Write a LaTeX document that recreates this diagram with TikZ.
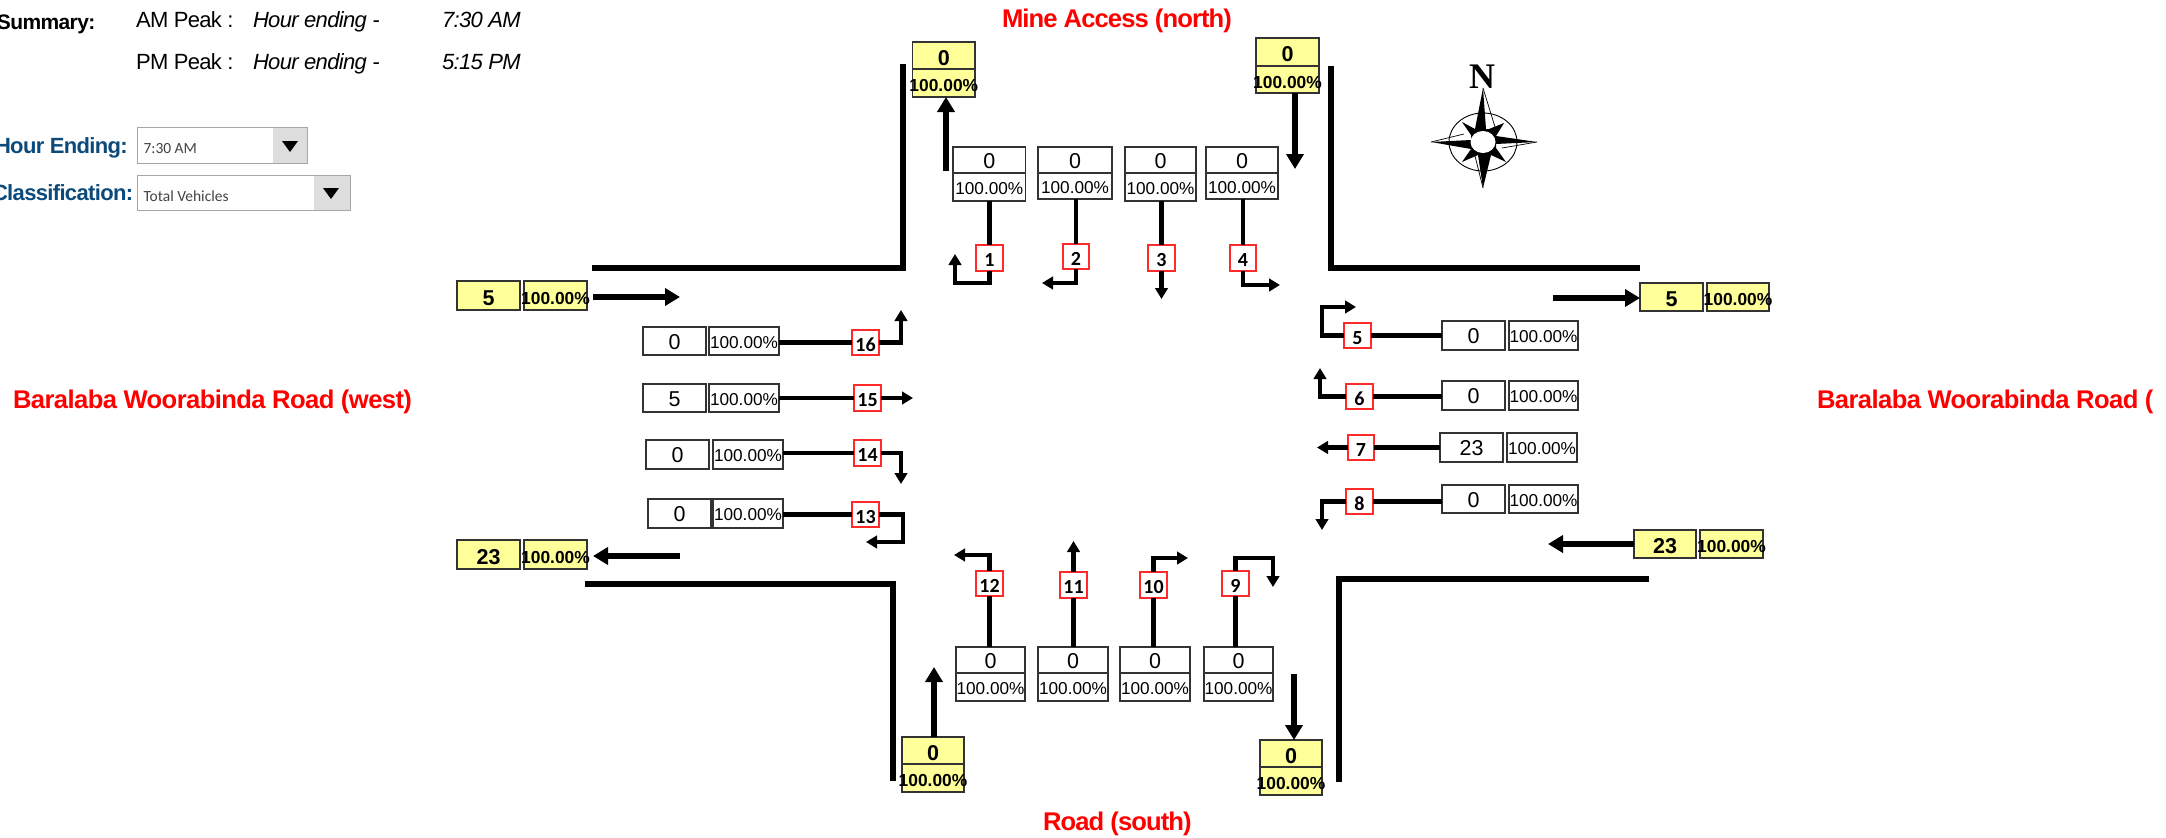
\documentclass[tikz,border=0pt]{standalone}
\usepackage{fontspec}
\usetikzlibrary{arrows.meta,calc}
\setmainfont{Liberation Sans}
\newfontfamily\arialfont{Liberation Sans}
\newfontfamily\roadfont[LetterSpace=-3.6]{Liberation Sans}
\newfontfamily\longroadfont[LetterSpace=-2.3]{Liberation Sans}
\newfontfamily\tightfont[LetterSpace=-3]{Liberation Sans}
\newfontfamily\calfont{Carlito}
\newfontfamily\serfont{Liberation Serif}
\definecolor{cellline}{HTML}{333333}
\definecolor{cellyellow}{HTML}{FFFF99}
\definecolor{lblred}{HTML}{FF2A2A}
\definecolor{hdrblue}{HTML}{0B4A7A}
\definecolor{btngrey}{HTML}{DDDDDD}
\definecolor{combotext}{HTML}{444444}
\newcommand\numtxt[1]{\raisebox{-8pt}[0pt][0pt]{\arialfont\fontsize{21.5}{24}\selectfont #1}}
\newcommand\pcttxt{\raisebox{-7.2pt}[0pt][0pt]{\arialfont\fontsize{17.2}{20}\selectfont 100.00\%}}
\newcommand\ynumtxt[1]{\raisebox{-9.8pt}[0pt][0pt]{\arialfont\fontsize{21.5}{24}\selectfont\bfseries #1}}
\newcommand\ypcttxt{\raisebox{-8.5pt}[0pt][0pt]{\arialfont\fontsize{17.4}{20}\selectfont\bfseries 100.00\%}}
% name x1 y1 x2 y2 style text
\newcommand\cellbox[7]{%
  \pgfmathsetmacro\cw{#4-#2}\pgfmathsetmacro\ch{#5-#3}%
  \node[#6,minimum width=\cw pt,minimum height=\ch pt] (#1) at ({(#2+#4)/2},{(#3+#5)/2}) {\makebox[0pt]{#7}};}
\tikzset{
  whitecell/.style={draw=cellline,fill=white,line width=1.3pt,inner sep=0pt,outer sep=0pt},
  yellowcell/.style={draw=cellline,fill=cellyellow,line width=1.3pt,inner sep=0pt,outer sep=0pt},
  movelabel/.style={draw=lblred,fill=white,line width=1.6pt,inner sep=0pt,outer sep=0pt},
  road/.style={line width=6pt,draw=black},
  flow/.style={line width=5.5pt,draw=black,-{Triangle[length=15pt,width=17pt]}},
  move/.style={line width=4.4pt,draw=black,line join=miter,-{Triangle[length=11pt,width=12.5pt]}},
  feed/.style={line width=4.4pt,draw=black},
  hdr/.style={inner sep=0pt,outer sep=0pt,anchor=base west},
  roadname/.style={hdr,text=red},
}
\newcommand\lab[6]{\cellbox{#1}{#2}{#3}{#4}{#5}{movelabel}{\raisebox{-8.8pt}[0pt][0pt]{\calfont\bfseries\fontsize{20}{22}\selectfont #6}}}
\begin{document}
\begin{tikzpicture}[x=1pt,y=-1pt]
\useasboundingbox (0,0) rectangle (2166,838);
\clip (0,0) rectangle (2166,838);
% header
\node[hdr] (sum) at (-3,29) {\fontsize{21}{24}\selectfont\bfseries\tightfont Summary:};
\node[hdr] (am) at (136,27) {\fontsize{22}{24}\selectfont\tightfont AM Peak :};
\node[hdr] (pm) at (136,69) {\fontsize{22}{24}\selectfont\tightfont PM Peak :};
\node[hdr] (ah) at (253,27) {\fontsize{22}{24}\selectfont\tightfont\itshape Hour ending -};
\node[hdr] (ph) at (253,69) {\fontsize{22}{24}\selectfont\tightfont\itshape Hour ending -};
\node[hdr] (at) at (442,27) {\fontsize{22}{24}\selectfont\tightfont\itshape 7:30 AM};
\node[hdr] (pt) at (442,69) {\fontsize{22}{24}\selectfont\tightfont\itshape 5:15 PM};
\node[hdr,text=hdrblue] (he) at (-5,153) {\fontsize{22}{24}\selectfont\bfseries\tightfont Hour Ending:};
\node[hdr,text=hdrblue] (cl) at (-8,200) {\fontsize{22}{24}\selectfont\bfseries\tightfont Classification:};
% combos
\draw[draw=gray!70,fill=white,line width=1pt] (137.5,127) rectangle (307,163);
\fill[btngrey] (272.5,127.5) rectangle (306.5,162.5);
\fill[black] (282,141) -- (298,141) -- (290,152) -- cycle;
\node[hdr,text=combotext] (c1) at (143.5,153) {\calfont\fontsize{15.5}{18}\selectfont 7:30 AM};
\draw[draw=gray!70,fill=white,line width=1pt] (137.5,175) rectangle (350,210);
\fill[btngrey] (314,175.5) rectangle (349.5,209.5);
\fill[black] (323,188) -- (339,188) -- (331,199) -- cycle;
\node[hdr,text=combotext] (c2) at (143.5,201) {\calfont\fontsize{15.5}{18}\selectfont Total Vehicles};
% road names
\node[roadname] (rn) at (1002,27) {\fontsize{25.6}{28}\selectfont\bfseries\roadfont Mine Access (north)};
\node[roadname] (rs) at (1043,830) {\fontsize{25.6}{28}\selectfont\bfseries\roadfont Road (south)};
\node[roadname] (rw) at (13,408) {\fontsize{25.6}{28}\selectfont\bfseries\longroadfont Baralaba Woorabinda Road (west)};
\node[roadname] (re) at (1817,408) {\fontsize{25.6}{28}\selectfont\bfseries\longroadfont Baralaba Woorabinda Road (};
% kerbs
\draw[road] (592,268) -- (903,268) -- (903,64);
\draw[road] (1331,66) -- (1331,268) -- (1640,268);
\draw[road] (585,584) -- (893,584) -- (893,781);
\draw[road] (1339,782) -- (1339,579) -- (1649,579);
% yellow cells
\cellbox{ynwv}{912.6}{42}{975}{69}{yellowcell}{\ynumtxt{0}}
\cellbox{ynwp}{912.6}{69}{975}{97}{yellowcell}{\ypcttxt}
\cellbox{ynev}{1256}{38}{1319}{66}{yellowcell}{\ynumtxt{0}}
\cellbox{ynep}{1256}{66}{1319}{93}{yellowcell}{\ypcttxt}
\cellbox{yswv}{902}{737}{964}{764}{yellowcell}{\ynumtxt{0}}
\cellbox{yswp}{902}{764}{964}{792}{yellowcell}{\ypcttxt}
\cellbox{ysev}{1260}{740}{1322}{767}{yellowcell}{\ynumtxt{0}}
\cellbox{ysep}{1260}{767}{1322}{795}{yellowcell}{\ypcttxt}
\cellbox{ywtv}{457}{281}{520}{310}{yellowcell}{\ynumtxt{5}}
\cellbox{ywtp}{524}{281}{587}{310}{yellowcell}{\ypcttxt}
\cellbox{ywbv}{457}{540}{520}{569}{yellowcell}{\ynumtxt{23}}
\cellbox{ywbp}{524}{540}{587}{569}{yellowcell}{\ypcttxt}
\cellbox{yetv}{1640}{283}{1703}{311}{yellowcell}{\ynumtxt{5}}
\cellbox{yetp}{1707}{283}{1769}{311}{yellowcell}{\ypcttxt}
\cellbox{yebv}{1634}{530}{1696}{558}{yellowcell}{\ynumtxt{23}}
\cellbox{yebp}{1700}{530}{1763}{558}{yellowcell}{\ypcttxt}
% through-flow arrows
\coordinate (fnw) at (946,171);
\coordinate (fne) at (1295,169);
\coordinate (fsw) at (934,667);
\coordinate (fse) at (1294,674);
\coordinate (fwt) at (680,297);
\coordinate (fwb) at (680,556);
\coordinate (fet) at (1553,298);
\coordinate (feb) at (1548,544);
\draw[flow] (fnw) -- (fnw |- ynwp.south);
\draw[flow] (fne |- ynep.south) -- (fne);
\draw[flow] (fsw |- yswv.north) -- (fsw);
\draw[flow] (fse) -- (fse |- ysev.north);
\draw[flow,shorten <=6pt] (ywtp.east |- fwt) -- (fwt);
\draw[flow,shorten >=6pt] (fwb) -- (ywbp.east |- fwb);
\draw[flow] (fet) -- (yetv.west |- fet);
\draw[flow] (yebv.west |- feb) -- (feb);
% north cells
\cellbox{v1}{953}{147}{1025.5}{173}{whitecell}{\numtxt{0}}
\cellbox{p1}{953}{173}{1025.5}{201}{whitecell}{\pcttxt}
\cellbox{v2}{1038}{147}{1112}{173}{whitecell}{\numtxt{0}}
\cellbox{p2}{1038}{173}{1112}{199}{whitecell}{\pcttxt}
\cellbox{v3}{1125}{147}{1196}{173}{whitecell}{\numtxt{0}}
\cellbox{p3}{1125}{173}{1196}{201}{whitecell}{\pcttxt}
\cellbox{v4}{1206}{147}{1278}{173}{whitecell}{\numtxt{0}}
\cellbox{p4}{1206}{173}{1278}{199}{whitecell}{\pcttxt}
% east cells
\cellbox{v5}{1442}{321}{1505}{350}{whitecell}{\numtxt{0}}
\cellbox{p5}{1509}{321}{1578}{350}{whitecell}{\pcttxt}
\cellbox{v6}{1442}{381}{1505}{410}{whitecell}{\numtxt{0}}
\cellbox{p6}{1509}{381}{1578}{410}{whitecell}{\pcttxt}
\cellbox{v7}{1440}{433}{1503}{462}{whitecell}{\numtxt{23}}
\cellbox{p7}{1507}{433}{1577}{462}{whitecell}{\pcttxt}
\cellbox{v8}{1442}{485}{1505}{513}{whitecell}{\numtxt{0}}
\cellbox{p8}{1509}{485}{1578}{513}{whitecell}{\pcttxt}
% south cells
\cellbox{v12}{956}{647}{1025}{673}{whitecell}{\numtxt{0}}
\cellbox{p12}{956}{673}{1025}{701}{whitecell}{\pcttxt}
\cellbox{v11}{1038}{647}{1108}{673}{whitecell}{\numtxt{0}}
\cellbox{p11}{1038}{673}{1108}{701}{whitecell}{\pcttxt}
\cellbox{v10}{1120}{647}{1190}{673}{whitecell}{\numtxt{0}}
\cellbox{p10}{1120}{673}{1190}{701}{whitecell}{\pcttxt}
\cellbox{v9}{1204}{647}{1273}{673}{whitecell}{\numtxt{0}}
\cellbox{p9}{1204}{673}{1273}{701}{whitecell}{\pcttxt}
% west cells
\cellbox{v16}{643}{327}{706}{355}{whitecell}{\numtxt{0}}
\cellbox{p16}{709}{327}{779}{355}{whitecell}{\pcttxt}
\cellbox{v15}{643}{384}{706}{412}{whitecell}{\numtxt{5}}
\cellbox{p15}{709}{384}{779}{412}{whitecell}{\pcttxt}
\cellbox{v14}{646}{440}{709}{469}{whitecell}{\numtxt{0}}
\cellbox{p14}{713}{440}{783}{469}{whitecell}{\pcttxt}
\cellbox{v13}{648}{499}{711}{528}{whitecell}{\numtxt{0}}
\cellbox{p13}{713}{499}{783}{528}{whitecell}{\pcttxt}
% movement labels and connectors
\lab{l1}{976}{245}{1003}{271}{1}
\lab{l2}{1063}{244}{1089}{269}{2}
\lab{l3}{1148}{245}{1175}{271}{3}
\lab{l4}{1230}{245}{1256}{271}{4}
\lab{l5}{1344}{323}{1371}{348}{5}
\lab{l6}{1346}{384}{1373}{409}{6}
\lab{l7}{1348}{435}{1374}{460}{7}
\lab{l8}{1346}{489}{1373}{514}{8}
\lab{l9}{1222}{571}{1249}{596}{9}
\lab{l10}{1140}{572}{1167}{598}{10}
\lab{l11}{1060}{572}{1087}{598}{11}
\lab{l12}{976}{571}{1003}{596}{12}
\lab{l13}{852}{502}{879}{527}{13}
\lab{l14}{854}{440}{881}{466}{14}
\lab{l15}{854}{385}{881}{411}{15}
\lab{l16}{852}{330}{879}{355}{16}
\foreach \c/\l in {p1/l1,p2/l2,p3/l3,p4/l4}{\draw[feed] (\c.south -| \l) -- (\l.north);}
\foreach \c/\l in {v9/l9,v10/l10,v11/l11,v12/l12}{\draw[feed] (\c.north -| \l) -- (\l.south);}
\foreach \c/\l in {v5/l5,v6/l6,v7/l7,v8/l8}{\draw[feed] (\c.west |- \l) -- (\l.east);}
\foreach \c/\l in {p13/l13,p14/l14,p15/l15,p16/l16}{\draw[feed] (\c.east |- \l) -- (\l.west);}
\draw[move] (l1.south) -- (l1.south |- 0,283) -- (955,283) -- (955,254);
\draw[move] (l2.south) -- (l2.south |- 0,283) -- (1042,283);
\draw[move] (l3.south) -- (l3.south |- 0,299);
\draw[move] (l4.south) -- (l4.south |- 0,285) -- (1280,285);
\draw[move] (l5.west) -- (1322,335.5) -- (1322,307) -- (1356,307);
\draw[move] (l6.west) -- (1320,396.5) -- (1320,368);
\draw[move] (l7.west) -- (1317,447.5);
\draw[move] (l8.west) -- (1322,501.5) -- (1322,530);
\draw[move] (l9.north) -- (1235.5,558) -- (1273,558) -- (1273,587);
\draw[move] (l10.north) -- (1153.5,558) -- (1188,558);
\draw[move] (l11.north) -- (1073.5,541);
\draw[move] (l12.north) -- (989.5,555) -- (954,555);
\draw[move] (l13.east) -- (903,514.5) -- (903,542) -- (866,542);
\draw[move] (l14.east) -- (901,453) -- (901,484);
\draw[move] (l15.east) -- (913,398);
\draw[move] (l16.east) -- (901,342.5) -- (901,310);
% compass
\begin{scope}[shift={(1483,142)}]
\draw[line width=.9pt,fill=white] (0,0) ellipse (34pt and 29pt);
\draw[line width=.7pt] (0,-54) -- (12,-15);
\draw[line width=.7pt] (0,46) -- (-8,14);
\draw[line width=.7pt] (-52,0) -- (-19,-8);
\draw[line width=.7pt] (54,0) -- (19,6);
\fill[black] (0,-54) -- (-8,-13) -- (-21,-20) -- (-12,-7) -- (-12,-2) -- (-52,0) -- (-12,7) -- (-21,20) -- (-5,13) -- (0,46) -- (8,13) -- (23,20) -- (13,6) -- (13,2) -- (54,0) -- (13,-6) -- (21,-19) -- (6,-13) -- (3,-13) -- cycle;
\fill[white] (0,0) ellipse (12.5pt and 11pt);
\end{scope}
\node[inner sep=0pt] (north) at (1482,77) {\serfont\bfseries\fontsize{36}{38}\selectfont N};
\end{tikzpicture}
\end{document}
